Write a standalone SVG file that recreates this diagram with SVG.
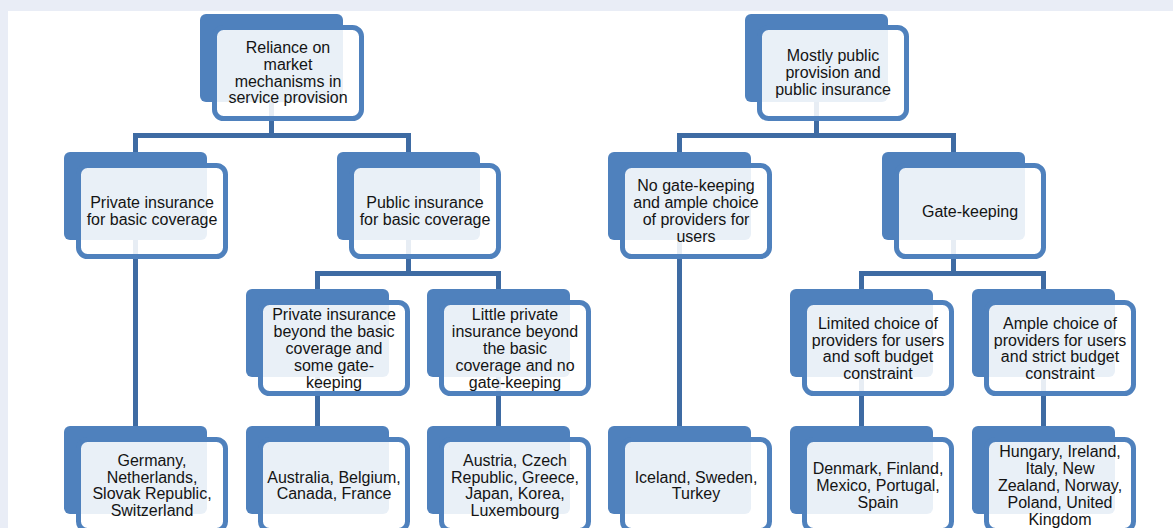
<svg xmlns="http://www.w3.org/2000/svg" width="1173" height="528" viewBox="0 0 1173 528">
<defs>
<style>
.bk{fill:#4F81BD}
.fr{fill:#FFFFFF;fill-opacity:0.88;stroke:#4F81BD;stroke-width:5}
.t{font-family:"Liberation Sans",Arial,sans-serif;font-size:16px;fill:#141414;text-anchor:middle}
.cn{fill:none;stroke:#3E6BA3;stroke-width:5;stroke-linejoin:miter;stroke-linecap:butt}
</style>
</defs>
<rect x="0" y="0" width="1173" height="528" fill="#E9EDF6"/>
<rect x="8" y="11" width="1165" height="517" fill="#FFFFFF"/>
<g id="connectors">
<path class="cn" d="M271.5 58V135.5M135.5 135.5H408.5M135.5 133V470M408.5 133V196"/>
<path class="cn" d="M816.5 58V135.5M679.5 135.5H953.5M679.5 133V470M953.5 133V196"/>
<path class="cn" d="M408.5 196V273.5M317.5 273.5H498.5M317.5 271V470M498.5 271V470"/>
<path class="cn" d="M953.5 196V273.5M861.5 273.5H1043.5M861.5 271V470M1043.5 271V470"/>
</g>
<g id="n1"><rect class="bk" x="200" y="14" width="143" height="88" rx="6"/><rect class="fr" x="214.5" y="27.5" width="147" height="91" rx="9"/>
<text class="t"><tspan x="288" y="53">Reliance on</tspan><tspan x="288" y="69.8">market</tspan><tspan x="288" y="86.6">mechanisms in</tspan><tspan x="288" y="103.4">service provision</tspan></text></g>
<g id="n2"><rect class="bk" x="745" y="14" width="143" height="88" rx="6"/><rect class="fr" x="759.5" y="27.5" width="147" height="91" rx="9"/>
<text class="t"><tspan x="833" y="61.4">Mostly public</tspan><tspan x="833" y="78.2">provision and</tspan><tspan x="833" y="95">public insurance</tspan></text></g>
<g id="n3"><rect class="bk" x="64" y="152" width="143" height="88" rx="6"/><rect class="fr" x="78.5" y="165.5" width="147" height="91" rx="9"/>
<text class="t"><tspan x="152" y="208">Private insurance</tspan><tspan x="152" y="224.8">for basic coverage</tspan></text></g>
<g id="n4"><rect class="bk" x="337" y="152" width="143" height="88" rx="6"/><rect class="fr" x="351.5" y="165.5" width="147" height="91" rx="9"/>
<text class="t"><tspan x="425" y="208">Public insurance</tspan><tspan x="425" y="224.8">for basic coverage</tspan></text></g>
<g id="n5"><rect class="bk" x="608" y="152" width="143" height="88" rx="6"/><rect class="fr" x="622.5" y="165.5" width="147" height="91" rx="9"/>
<text class="t"><tspan x="696" y="191.2">No gate-keeping</tspan><tspan x="696" y="208">and ample choice</tspan><tspan x="696" y="224.8">of providers for</tspan><tspan x="696" y="241.6">users</tspan></text></g>
<g id="n6"><rect class="bk" x="882" y="152" width="143" height="88" rx="6"/><rect class="fr" x="896.5" y="165.5" width="147" height="91" rx="9"/>
<text class="t"><tspan x="970" y="216.6">Gate-keeping</tspan></text></g>
<g id="n7"><rect class="bk" x="246" y="289" width="143" height="88" rx="6"/><rect class="fr" x="260.5" y="302.5" width="147" height="91" rx="9"/>
<text class="t"><tspan x="334" y="320.4">Private insurance</tspan><tspan x="334" y="337.2">beyond the basic</tspan><tspan x="334" y="354">coverage and</tspan><tspan x="334" y="370.8">some gate-</tspan><tspan x="334" y="387.6">keeping</tspan></text></g>
<g id="n8"><rect class="bk" x="427" y="289" width="143" height="88" rx="6"/><rect class="fr" x="441.5" y="302.5" width="147" height="91" rx="9"/>
<text class="t"><tspan x="515" y="320.4">Little private</tspan><tspan x="515" y="337.2">insurance beyond</tspan><tspan x="515" y="354">the basic</tspan><tspan x="515" y="370.8">coverage and no</tspan><tspan x="515" y="387.6">gate-keeping</tspan></text></g>
<g id="n9"><rect class="bk" x="790" y="289" width="143" height="88" rx="6"/><rect class="fr" x="804.5" y="302.5" width="147" height="91" rx="9"/>
<text class="t"><tspan x="878" y="328.8">Limited choice of</tspan><tspan x="878" y="345.6">providers for users</tspan><tspan x="878" y="362.4">and soft budget</tspan><tspan x="878" y="379.2">constraint</tspan></text></g>
<g id="n10"><rect class="bk" x="972" y="289" width="143" height="88" rx="6"/><rect class="fr" x="986.5" y="302.5" width="147" height="91" rx="9"/>
<text class="t"><tspan x="1060" y="328.8">Ample choice of</tspan><tspan x="1060" y="345.6">providers for users</tspan><tspan x="1060" y="362.4">and strict budget</tspan><tspan x="1060" y="379.2">constraint</tspan></text></g>
<g id="n11"><rect class="bk" x="64" y="426" width="143" height="88" rx="6"/><rect class="fr" x="78.5" y="439.5" width="147" height="91" rx="9"/>
<text class="t"><tspan x="152" y="465.8">Germany,</tspan><tspan x="152" y="482.6">Netherlands,</tspan><tspan x="152" y="499.4">Slovak Republic,</tspan><tspan x="152" y="516.2">Switzerland</tspan></text></g>
<g id="n12"><rect class="bk" x="246" y="426" width="143" height="88" rx="6"/><rect class="fr" x="260.5" y="439.5" width="147" height="91" rx="9"/>
<text class="t"><tspan x="334" y="482.6">Australia, Belgium,</tspan><tspan x="334" y="499.4">Canada, France</tspan></text></g>
<g id="n13"><rect class="bk" x="427" y="426" width="143" height="88" rx="6"/><rect class="fr" x="441.5" y="439.5" width="147" height="91" rx="9"/>
<text class="t"><tspan x="515" y="465.8">Austria, Czech</tspan><tspan x="515" y="482.6">Republic, Greece,</tspan><tspan x="515" y="499.4">Japan, Korea,</tspan><tspan x="515" y="516.2">Luxembourg</tspan></text></g>
<g id="n14"><rect class="bk" x="608" y="426" width="143" height="88" rx="6"/><rect class="fr" x="622.5" y="439.5" width="147" height="91" rx="9"/>
<text class="t"><tspan x="696" y="482.6">Iceland, Sweden,</tspan><tspan x="696" y="499.4">Turkey</tspan></text></g>
<g id="n15"><rect class="bk" x="790" y="426" width="143" height="88" rx="6"/><rect class="fr" x="804.5" y="439.5" width="147" height="91" rx="9"/>
<text class="t"><tspan x="878" y="474.2">Denmark, Finland,</tspan><tspan x="878" y="491">Mexico, Portugal,</tspan><tspan x="878" y="507.8">Spain</tspan></text></g>
<g id="n16"><rect class="bk" x="972" y="426" width="143" height="88" rx="6"/><rect class="fr" x="986.5" y="439.5" width="147" height="91" rx="9"/>
<text class="t"><tspan x="1060" y="457.4">Hungary, Ireland,</tspan><tspan x="1060" y="474.2">Italy, New</tspan><tspan x="1060" y="491">Zealand, Norway,</tspan><tspan x="1060" y="507.8">Poland, United</tspan><tspan x="1060" y="524.6">Kingdom</tspan></text></g>
</svg>
